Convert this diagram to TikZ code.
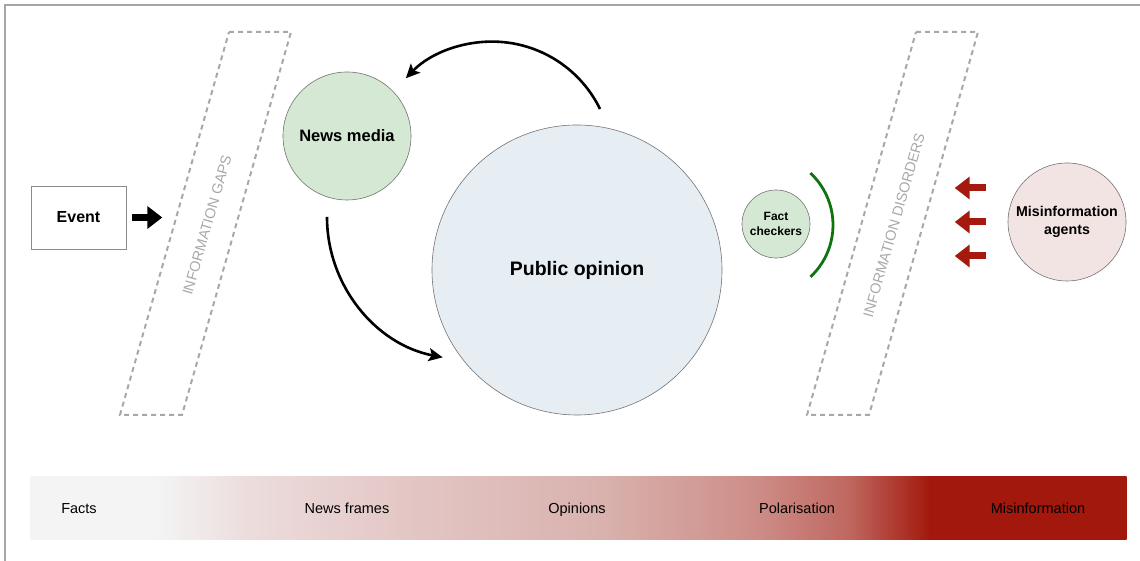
\documentclass[tikz,border=0pt]{standalone}
\usepackage{fontspec}
\setmainfont{Liberation Sans}
\usetikzlibrary{arrows.meta}

\definecolor{mediagreen}{HTML}{D5E8D4}
\definecolor{publicblue}{HTML}{E6EEF4}
\definecolor{agentpink}{HTML}{F3E4E4}
\definecolor{checkgreen}{HTML}{0F730F}
\definecolor{misred}{HTML}{A5190E}
\definecolor{gapgray}{HTML}{A8A8A8}
% colour stops of the scale bar
\definecolor{barA}{HTML}{F4F4F4}
\definecolor{barB}{HTML}{ECDCDC}
\definecolor{barC}{HTML}{E2C5C3}
\definecolor{barD}{HTML}{D9B2AE}
\definecolor{barE}{HTML}{CD8C86}
\definecolor{barF}{HTML}{BE675F}
\definecolor{barG}{HTML}{A3180C}

\begin{document}
\begin{tikzpicture}[x=1pt,y=1pt,
  bubble/.style={circle,draw=black!55,line width=0.6pt,inner sep=0pt,align=center},
  gapframe/.style={draw=gapgray,line width=2pt,dash pattern=on 5pt off 4pt},
  gaplabel/.style={text=gapgray,font=\fontsize{14.5}{17}\selectfont,rotate=74},
  feedback/.style={line width=2.6pt,-{Stealth[length=14pt,width=13pt,inset=3pt]}},
  blockarrow/.style={line width=7pt,-{Triangle[length=15pt,width=22pt]}},
  barlabel/.style={anchor=base,font=\fontsize{14.5}{17}\selectfont}]
\useasboundingbox (0,0) rectangle (1140,561);

\draw[black!35,line width=1.2pt] (5,0) -- (5,556) -- (1140,556);

% actors
\node[draw=black!45,line width=0.6pt,minimum width=95pt,minimum height=63pt,
  font=\bfseries\fontsize{16}{19}\selectfont] (event) at (78.5,343.5) {Event};
\node[bubble,fill=mediagreen,minimum size=128pt,
  font=\bfseries\fontsize{16.5}{19}\selectfont] (media) at (347,425) {News media};
\node[bubble,fill=publicblue,minimum size=290pt,
  font=\bfseries\fontsize{19.5}{23}\selectfont] (public) at (577,291) {Public opinion};
\node[bubble,fill=mediagreen,minimum size=68pt,
  font=\bfseries\fontsize{12}{14.5}\selectfont] (checkers) at (776,337) {Fact\\checkers};
\node[bubble,fill=agentpink,minimum size=118pt,
  font=\bfseries\fontsize{14.2}{17.5}\selectfont] (agents) at (1067,339) {Misinformation\\agents};

% the two slanted dashed bands
\foreach \Xs/\Name/\Texto in {0/gaps/INFORMATION GAPS,687/disorders/INFORMATION DISORDERS}
{
  \draw[gapframe] (229+\Xs,529) -- (291+\Xs,529) -- (182+\Xs,146) -- (120+\Xs,146) -- cycle;
  \node[gaplabel] (\Name) at (207+\Xs,336) {\Texto};
}

\draw[blockarrow] ([xshift=6pt]event.east) -- ++(30,0);

% media <-> public opinion
\coordinate (feedtop) at (600,452);
\draw[feedback] (feedtop) arc[start angle=26,end angle=136,radius=120];
\coordinate (feedbot) at (327,344);
\draw[feedback] (feedbot) arc[start angle=180,end angle=259,radius=143];

% shield of the fact checkers
\coordinate (shield) at ([xshift=-14pt,yshift=-1pt]checkers.center);
\draw[checkgreen,line width=2.8pt] (shield) ++(-47:71) arc[start angle=-47,end angle=47,radius=71];

\foreach \Yc in {34,0,-34}
{
  \draw[blockarrow,misred] ([xshift=-22pt,yshift=\Yc pt]agents.west) -- ++(-31,0);
}

% scale bar
\foreach \Xa/\Xb/\Ca/\Cb in {31/157/barA/barA,157/250/barA/barB,250/420/barB/barC,
  420/600/barC/barD,600/760/barD/barE,760/850/barE/barF,850/930/barF/barG,930/1126/barG/barG}
{
  \shade[left color=\Ca,right color=\Cb] (\Xa-0.5,21) rectangle (\Xb+0.5,84);
}
\foreach \Xc/\Texto in {79/Facts,347/News frames,577/Opinions,797/Polarisation,1038/Misinformation}
{
  \node[barlabel] (label\Xc) at (\Xc,47) {\Texto};
}
\end{tikzpicture}
\end{document}
